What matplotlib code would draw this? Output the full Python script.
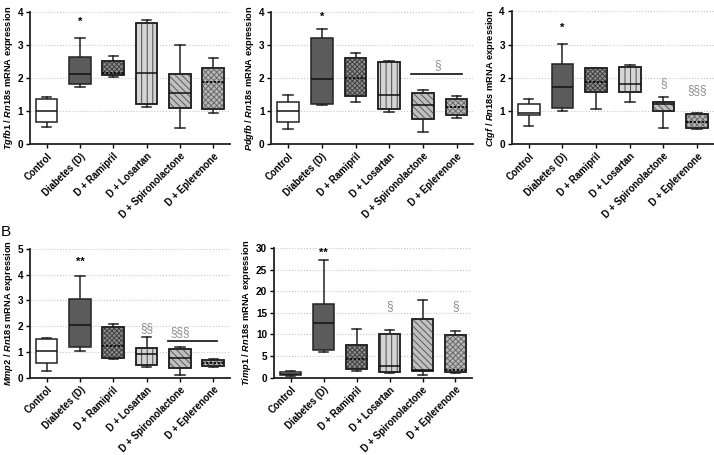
import matplotlib
matplotlib.use("Agg")
import matplotlib.pyplot as plt
from matplotlib.patches import PathPatch

plt.rcParams['font.family'] = ['Liberation Sans', 'DejaVu Sans']
plt.rcParams['font.weight'] = 'bold'
plt.rcParams['mathtext.fontset'] = 'custom'
plt.rcParams['mathtext.it'] = 'Liberation Sans:italic:bold'
plt.rcParams['mathtext.rm'] = 'Liberation Sans:bold'
plt.rcParams['hatch.linewidth'] = 0.7

# Groups
groups = ['Control', 'Diabetes (D)', 'D + Ramipril', 'D + Losartan',
          'D + Spironolactone', 'D + Eplerenone']

# Box stats per panel: (whisker low, q1, median, q3, whisker high)
tgfb1 = [(0.53, 0.68, 1.00, 1.37, 1.42), (1.75, 1.82, 2.12, 2.65, 3.23),
         (2.05, 2.10, 2.15, 2.52, 2.68), (1.13, 1.22, 2.15, 3.67, 3.77),
         (0.50, 1.10, 1.55, 2.13, 3.00), (0.95, 1.08, 1.88, 2.30, 2.60)]
pdgfb = [(0.45, 0.68, 1.02, 1.28, 1.50), (1.20, 1.23, 1.98, 3.22, 3.50),
         (1.27, 1.45, 2.00, 2.60, 2.77), (0.98, 1.08, 1.50, 2.48, 2.52),
         (0.38, 0.78, 1.20, 1.55, 1.65), (0.80, 0.88, 1.12, 1.38, 1.45)]
ctgf = [(0.55, 0.88, 0.95, 1.22, 1.37), (1.00, 1.08, 1.72, 2.42, 3.02),
        (1.05, 1.57, 1.88, 2.30, 2.30), (1.27, 1.57, 1.80, 2.33, 2.38),
        (0.50, 1.00, 1.22, 1.27, 1.42), (0.45, 0.48, 0.67, 0.90, 0.95)]
mmp2 = [(0.25, 0.57, 1.02, 1.50, 1.55), (1.05, 1.20, 2.03, 3.05, 3.95),
        (0.72, 0.75, 1.22, 1.98, 2.10), (0.42, 0.50, 0.92, 1.17, 1.58),
        (0.10, 0.37, 0.78, 1.10, 1.20), (0.42, 0.45, 0.55, 0.68, 0.72)]
timp1 = [(0.4, 0.6, 0.9, 1.3, 1.5), (6.0, 6.5, 12.7, 17.1, 27.2),
         (1.6, 1.9, 4.2, 7.5, 11.3), (1.0, 1.3, 2.7, 10.0, 11.0),
         (0.5, 1.5, 1.8, 13.6, 18.0), (1.0, 1.4, 1.8, 9.9, 10.8)]

# Significance marks: (group index, y value, text)
tgfb1_marks = [(1, 3.55, '*')]
pdgfb_marks = [(1, 3.7, '*'), (4.45, 2.22, '§')]
ctgf_marks = [(1, 3.35, '*'), (4, 1.65, '§'), (5, 1.45, '§§§')]
mmp2_marks = [(1, 4.3, '**'), (3, 1.7, '§§'), (4, 1.52, '§§§')]
timp1_marks = [(1, 27.8, '**'), (3, 15.2, '§'), (5, 15.2, '§')]

# Bars spanning groups: (x start, x end, y)
pdgfb_bar = [(3.65, 5.15, 2.13)]
mmp2_bar = [(3.63, 5.1, 1.42)]

# Box styles: facecolor, hatch, hatch color, median style
styles = [('white', None, None, '-'),
          ('#5b5b5b', None, None, '-'),
          ('#8e8e8e', 'xxxxxxx', '#404040', ':'),
          ('#d5d5d5', '|||', '#4a4a4a', '-'),
          ('#c0c0c0', '\\\\\\\\\\', '#5a5a5a', '-'),
          ('#b8b8b8', 'xxxxxx', '#6a6a6a', ':')]

grey = '#8a8a8a'


def draw_panel(ax, stats, ylabel, ymax, ystep, marks, bars=()):
    bxp_stats = []
    for i, (lo, q1, med, q3, hi) in enumerate(stats):
        bxp_stats.append(dict(whislo=lo, q1=q1, med=med, q3=q3, whishi=hi,
                              fliers=[], label=groups[i]))
    res = ax.bxp(bxp_stats, positions=range(len(stats)), widths=0.65,
                 patch_artist=True, showfliers=False, capwidths=0.28,
                 boxprops=dict(linewidth=1.1, edgecolor='#222222'),
                 whiskerprops=dict(linewidth=1.1, color='#222222'),
                 capprops=dict(linewidth=1.1, color='#222222'),
                 medianprops=dict(linewidth=1.1, color='#111111'))
    for i, box in enumerate(res['boxes']):
        fc, hatch, hc, mls = styles[i]
        box.set_facecolor(fc)
        box.set_zorder(3)
        if hatch:
            hp = PathPatch(box.get_path(), facecolor='none', edgecolor=hc,
                           hatch=hatch, linewidth=0, zorder=3.1)
            ax.add_patch(hp)
            edge = PathPatch(box.get_path(), facecolor='none',
                             edgecolor='#222222', linewidth=1.1, zorder=3.2)
            ax.add_patch(edge)
        if mls == ':':
            res['medians'][i].set_linestyle((0, (1.2, 0.8)))
            res['medians'][i].set_linewidth(1.4)
        res['medians'][i].set_zorder(4)
    for ln in res['whiskers'] + res['caps']:
        ln.set_zorder(2.5)

    for x, y, t in marks:
        if '*' in t:
            ax.text(x, y, t, ha='center', va='bottom', fontsize=8, color='black')
        else:
            ax.text(x, y, t, ha='center', va='bottom', fontsize=8.5, color=grey,
                    fontweight='normal')
    for x0, x1, y in bars:
        ax.plot([x0, x1], [y, y], color='#222222', linewidth=1.3)

    ax.set_xlim(-0.5, 5.5)
    ax.set_ylim(0, ymax)
    ax.set_yticks(range(0, ymax + 1, ystep))
    ax.set_xticks(range(len(groups)))
    ax.set_xticklabels(groups, rotation=45, ha='right', rotation_mode='anchor',
                       fontsize=6.9)
    ax.tick_params(axis='y', labelsize=7.2, length=3, width=1, pad=2)
    ax.tick_params(axis='x', length=3, width=1, pad=2)
    ax.set_ylabel(ylabel, fontsize=6.7, labelpad=2, fontweight='bold')
    ax.yaxis.grid(True, linestyle=':', color='#c8c8c8', linewidth=0.8)
    ax.set_axisbelow(True)
    for s in ['top', 'right']:
        ax.spines[s].set_visible(False)
    for s in ['left', 'bottom']:
        ax.spines[s].set_linewidth(1.3)
        ax.spines[s].set_color('#222222')


fig = plt.figure(figsize=(7.14, 4.55), dpi=100)

ax1 = fig.add_axes([0.042, 0.683, 0.280, 0.290])
ax2 = fig.add_axes([0.380, 0.683, 0.283, 0.290])
ax3 = fig.add_axes([0.717, 0.683, 0.283, 0.292])
ax4 = fig.add_axes([0.042, 0.170, 0.280, 0.283])
ax5 = fig.add_axes([0.384, 0.170, 0.277, 0.285])

draw_panel(ax1, tgfb1, r'$\mathit{Tgfb1}$ / $\mathit{Rn18s}$ mRNA expression', 4, 1, tgfb1_marks)
draw_panel(ax2, pdgfb, r'$\mathit{Pdgfb}$ / $\mathit{Rn18s}$ mRNA expression', 4, 1, pdgfb_marks, pdgfb_bar)
draw_panel(ax3, ctgf, r'$\mathit{Ctgf}$ / $\mathit{Rn18s}$ mRNA expression', 4, 1, ctgf_marks)
draw_panel(ax4, mmp2, r'$\mathit{Mmp2}$ / $\mathit{Rn18s}$ mRNA expression', 5, 1, mmp2_marks, mmp2_bar)
draw_panel(ax5, timp1, r'$\mathit{Timp1}$ / $\mathit{Rn18s}$ mRNA expression', 30, 5, timp1_marks)

fig.text(0.001, 0.475, 'B', fontsize=11, fontweight='normal', ha='left', va='bottom')

fig.savefig('out.png', dpi=100)
